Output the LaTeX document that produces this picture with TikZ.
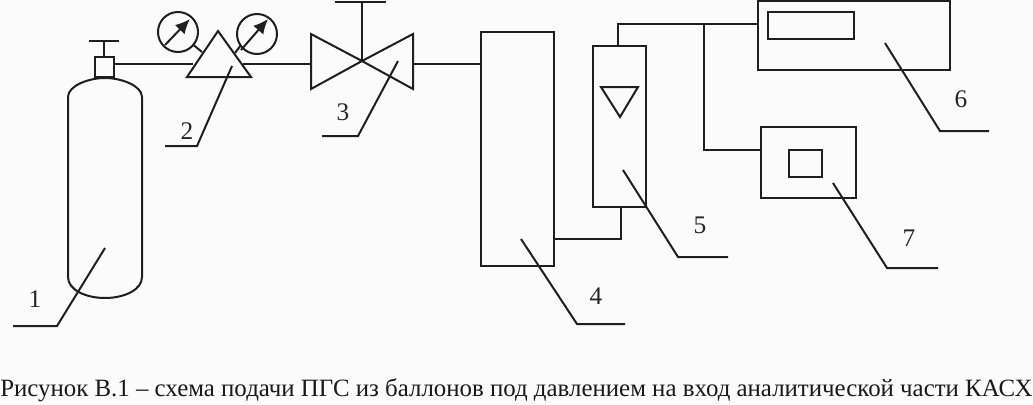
\documentclass[tikz,border=0pt]{standalone}
\usepackage{fontspec}
\setmainfont{Liberation Serif}
\usetikzlibrary{arrows.meta}
\tikzset{
  x=0.75pt,y=-0.75pt,
  ink/.style={draw=black!88,line width=2*0.75pt,line join=miter},
  boxn/.style={ink,rectangle,inner sep=0pt,outer sep=0pt,anchor=north west},
  gauge/.style={ink,circle,inner sep=0pt,outer sep=0pt,minimum size=30pt},
  num/.style={inner sep=0pt,text=black!85,font=\fontsize{19}{19}\selectfont},
  needle/.style={ink,-{Latex[length=11pt,width=10pt]}},
}
\newcommand{\rbox}[5]{\node[boxn,minimum width=#4*0.75pt,minimum height=#5*0.75pt] (#1) at (#2,#3) {};}
\begin{document}
\begin{tikzpicture}
\useasboundingbox[fill=black!1.5] (0,0) rectangle (1033,404);
% cylinder
\draw[ink] (68,97) .. controls (68,86) and (88,78) .. (105,78) .. controls (122,78) and (142,86) .. (142,97)
  -- (142,277) .. controls (142,290) and (124,298) .. (105,298) .. controls (86,298) and (68,290) .. (68,277) -- cycle;
\rbox{bvalve}{95}{57}{19}{20}
\coordinate (hl) at (89,41); \coordinate (hr) at (119,41); \coordinate (hc) at (104,41);
\draw[ink] (hl) -- (hr); \draw[ink] (hc) -- (hc |- bvalve.north);
% regulator
\coordinate (ta) at (218,31); \coordinate (tl) at (187,77); \coordinate (tr) at (251,77);
\draw[ink] (ta) -- (tr) -- (tl) -- cycle;
\node[gauge] (g1) at (178,32) {};
\node[gauge] (g2) at (257,34) {};
\coordinate (s1) at (202,52); \coordinate (s2) at (235,53);
\draw[ink] (g1.-40) -- (s1);
\draw[ink] (g2.215) -- (s2);
\coordinate (n1a) at (165,45); \coordinate (n1b) at (190,19);
\coordinate (n2a) at (241,50); \coordinate (n2b) at (268,19);
\draw[needle] (n1a) -- (n1b);
\draw[needle] (n2a) -- (n2b);
\coordinate (rin) at (193,64); \coordinate (rout) at (243,64);
\draw[ink] (bvalve.east |- rin) -- (rin);
% valve 3
\coordinate (vc) at (362,61);
\coordinate (va) at (311,34); \coordinate (vb) at (311,89);
\coordinate (vd) at (413,34); \coordinate (ve) at (413,89);
\draw[ink] (vc) -- (va) -- (vb) -- cycle;
\draw[ink] (vc) -- (vd) -- (ve) -- cycle;
\coordinate (vt) at (362,2);
\draw[ink] (vc) -- (vt);
\draw[ink] (335,2) -- (386,2);
\draw[ink] (rout) -- (va |- rout);
% boxes
\rbox{b4}{481}{32}{73}{234}
\rbox{b5}{593}{46}{53}{161}
\rbox{b6}{758}{1}{192}{69}
\rbox{b6i}{768}{12}{86}{27}
\rbox{b7}{761}{127}{95}{71}
\rbox{b7i}{789}{150}{33}{27}
\coordinate (vout) at (413,64);
\draw[ink] (vout) -- (b4.west |- vout);
\coordinate (j45) at (621,239);
\draw[ink] (b4.east |- j45) -- (j45) -- (j45 |- b5.south);
\coordinate (t5) at (618,24); \coordinate (j67) at (704,24); \coordinate (k7) at (704,150);
\draw[ink] (t5 |- b5.north) -- (t5) -- (t5 -| b6.west);
\draw[ink] (j67) -- (k7) -- (k7 -| b7.west);
\coordinate (fa) at (601,87); \coordinate (fb) at (638,87); \coordinate (fc) at (620,117);
\draw[ink] (fa) -- (fb) -- (fc) -- cycle;
% leaders
\draw[ink] (105,248) -- (57,326) -- (13,326);
\draw[ink] (232,66) -- (197,146) -- (165,146);
\draw[ink] (398,61) -- (358,136) -- (322,136);
\draw[ink] (521,239) -- (577,324) -- (625,324);
\draw[ink] (623,170) -- (678,257) -- (728,257);
\draw[ink] (885,43) -- (940,131) -- (989,131);
\draw[ink] (833,183) -- (887,268) -- (938,268);
% labels
\node[num] (l1) at (35,299) {1};
\node[num] (l2) at (187,131) {2};
\node[num] (l3) at (343,112) {3};
\node[num] (l4) at (596,296) {4};
\node[num] (l5) at (700,225) {5};
\node[num] (l6) at (961,99) {6};
\node[num] (l7) at (909,238) {7};
\node[inner sep=0pt,anchor=base west,text=black!90,font=\fontsize{18.66}{19}\selectfont] (cap) at (0,396.5) {Рисунок В.1 – схема подачи ПГС из баллонов под давлением на вход аналитической части КАСХ};
\end{tikzpicture}
\end{document}
